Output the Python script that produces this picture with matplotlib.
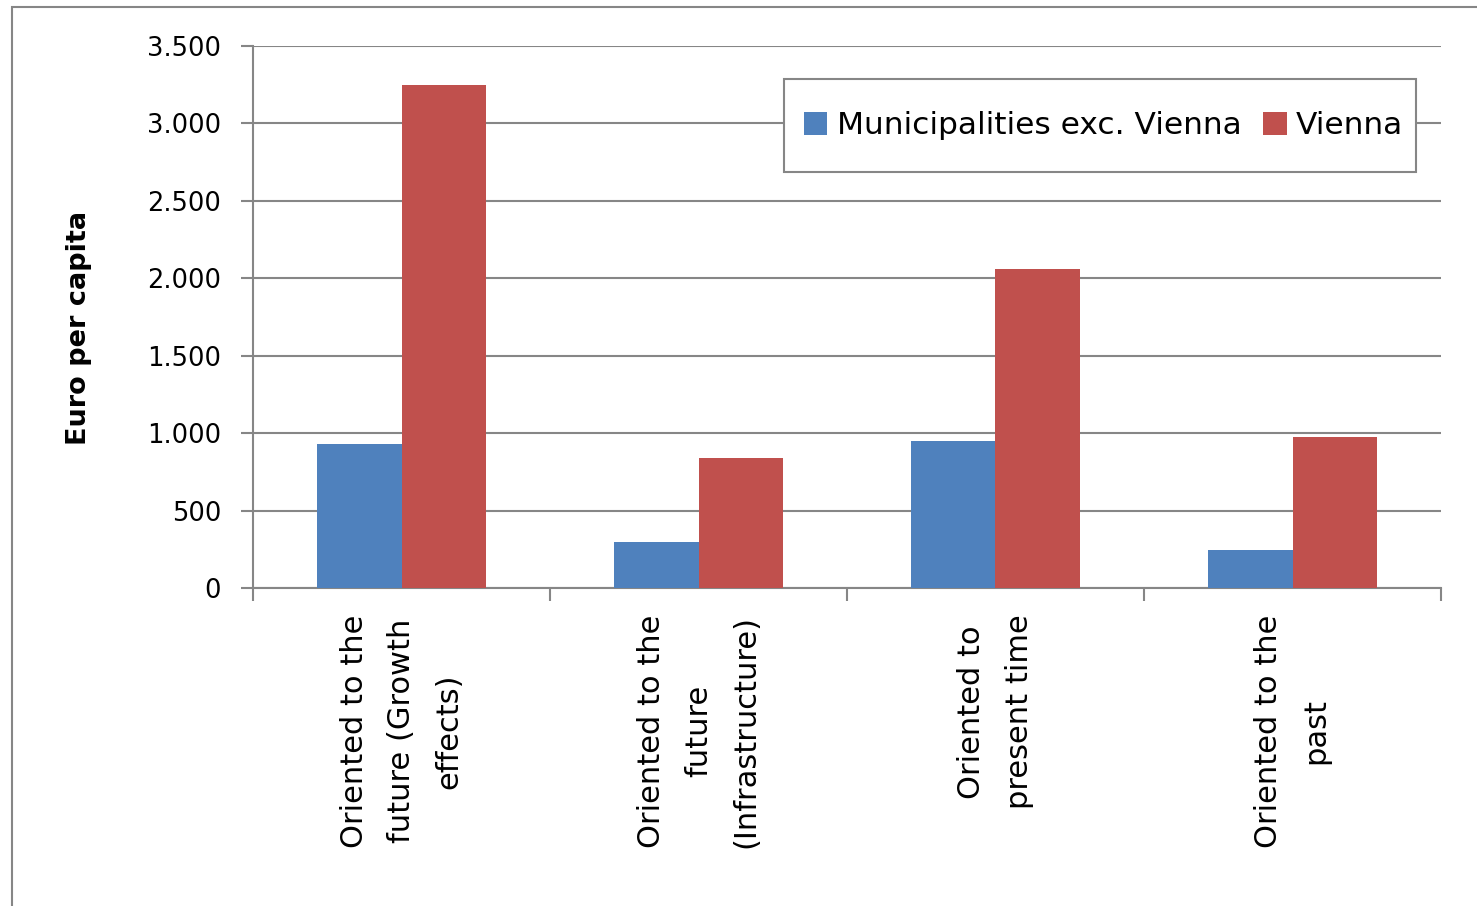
import numpy as np
import matplotlib.pyplot as plt
from matplotlib.patches import Rectangle

categories = [
    "Oriented to the\nfuture (Growth\neffects)",
    "Oriented to the\nfuture\n(Infrastructure)",
    "Oriented to\npresent time",
    "Oriented to the\npast",
]
municipalities = [933, 300, 948, 243]  # Municipalities exc. Vienna
vienna = [3246, 841, 2057, 978]
series_names = ["Municipalities exc. Vienna", "Vienna"]
y_ticks = [0, 500, 1000, 1500, 2000, 2500, 3000, 3500]
y_ticklabels = ["0", "500", "1.000", "1.500", "2.000", "2.500", "3.000", "3.500"]

blue = "#4F81BD"
red = "#C0504D"
grey = "#868686"

plt.rcParams["font.family"] = ["DejaVu Sans"]

fig = plt.figure(figsize=(14.77, 9.06), dpi=100)
W, H = 1477, 906
ax = fig.add_axes([253 / W, 1 - 588 / H, (1441 - 253) / W, (588 - 46) / H])

x = np.arange(len(categories))
bw = 0.286
ax.bar(x - bw / 2, municipalities, bw, color=blue, label=series_names[0], zorder=3)
ax.bar(x + bw / 2, vienna, bw, color=red, label=series_names[1], zorder=3)

ax.set_xlim(-0.5, len(categories) - 0.5)
ax.set_ylim(0, 3500)
ax.set_yticks(y_ticks)
ax.set_yticklabels(y_ticklabels, fontsize=18.5)
ax.yaxis.grid(True, color=grey, linewidth=1.5, zorder=0)
ax.set_axisbelow(True)

# category labels in the middle, ticks on the boundaries
ax.set_xticks(x)
ax.set_xticklabels(categories, rotation=90, fontsize=22, ha="center", va="top",
                   multialignment="center", linespacing=1.8)
ax.tick_params(axis="x", which="major", length=0, pad=19)
ax.set_xticks(np.arange(-0.5, len(categories), 1.0), minor=True)
ax.tick_params(axis="x", which="minor", length=9, width=1.5, color=grey)
ax.tick_params(axis="y", length=9, width=1.5, color=grey, pad=14)

for s in ["top", "right"]:
    ax.spines[s].set_visible(False)
for s in ["left", "bottom"]:
    ax.spines[s].set_color(grey)
    ax.spines[s].set_linewidth(1.5)

ax.set_ylabel("Euro per capita", fontsize=19.5, fontweight="bold")
ax.yaxis.set_label_coords((92 - 253) / (1441 - 253), (588 - 328) / (588 - 46))

# legend box drawn by hand so the padding matches
box = Rectangle((784 / W, 1 - 172 / H), (1416 - 784) / W, (172 - 79) / H,
                transform=fig.transFigure, facecolor="white", edgecolor=grey,
                linewidth=1.5, zorder=4)
ax.add_artist(box)
leg = ax.legend(loc="center left", bbox_to_anchor=(804 / W, 1 - 126 / H),
                bbox_transform=fig.transFigure, ncol=2, fontsize=22.5,
                frameon=False, borderaxespad=0, borderpad=0,
                handlelength=0.75, handleheight=0.75, handletextpad=0.3,
                columnspacing=0.7)
leg.set_zorder(5)

# chart area border
fig.patches.append(Rectangle((11.5 / W, -0.1), 1.2, 1 - 7 / H + 0.1,
                             transform=fig.transFigure, fill=False,
                             edgecolor=grey, linewidth=1.5))

fig.savefig("out.png", dpi=100)
